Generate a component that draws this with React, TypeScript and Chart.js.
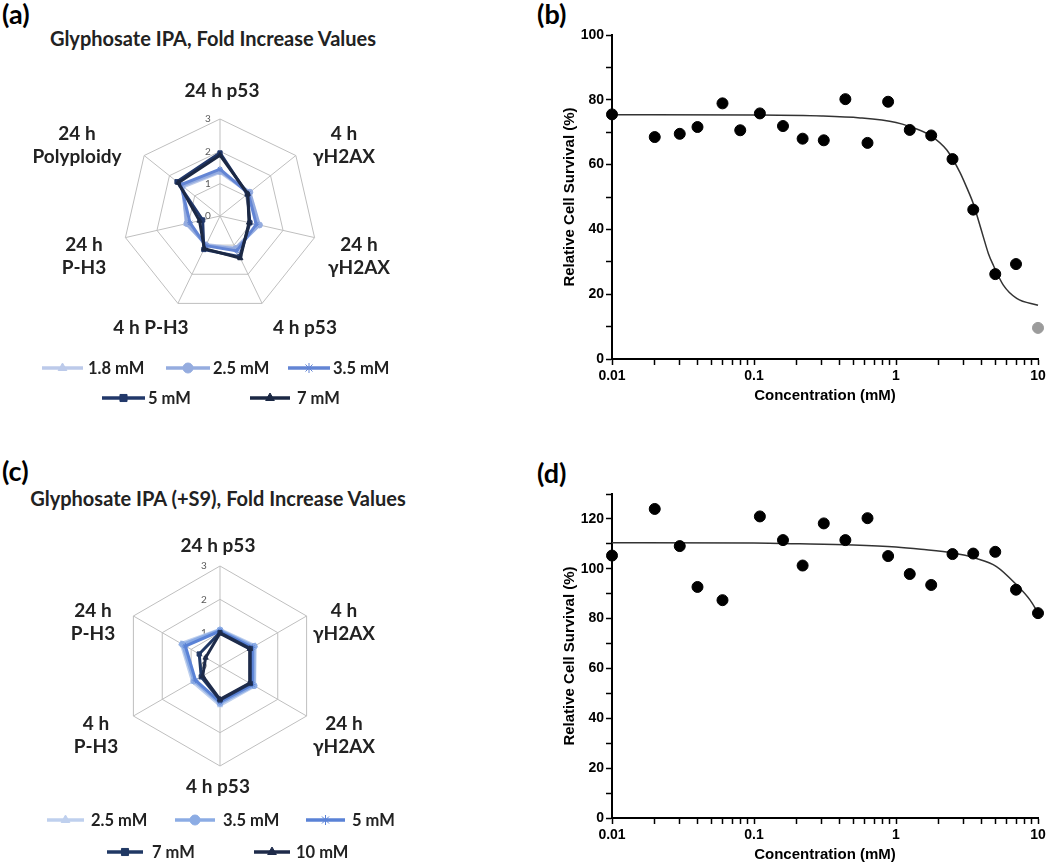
import React, { useEffect, useRef } from 'react';
import { Chart, registerables } from 'chart.js';
import { drawPoint } from 'chart.js/helpers';

Chart.register(...registerables);

const RADAR_FONT = 'Lato, "Open Sans", sans-serif';
const PRISM_FONT = '"Liberation Sans", Arial, sans-serif';

// ================= Panel (a): Glyphosate IPA, fold increase (radar) =================
const A_AXES: string[][] = [
  ['24 h p53'], ['4 h', 'γH2AX'], ['24 h', 'γH2AX'], ['4 h p53'], ['4 h P-H3'], ['24 h', 'P-H3'], ['24 h', 'Polyploidy'],
];
const A_SERIES = ['1.8 mM', '2.5 mM', '3.5 mM', '5 mM', '7 mM'];
const A_1_8_MM = [1.35, 1.15, 1.22, 1.1, 0.98, 1.08, 1.45];
const A_2_5_MM = [1.38, 1.18, 1.25, 1.12, 1.0, 1.05, 1.5];
const A_3_5_MM = [1.45, 1.12, 1.15, 1.2, 1.02, 0.95, 1.55];
const A_5_MM = [1.95, 1.08, 0.95, 1.4, 1.15, 0.55, 1.7];
const A_7_MM = [1.88, 1.1, 0.92, 1.45, 1.12, 0.65, 1.65];
const A_SCALE_TICKS = [0, 1, 2, 3];

// ================= Panel (c): Glyphosate IPA (+S9), fold increase (radar) =================
const C_AXES: string[][] = [
  ['24 h p53'], ['4 h', 'γH2AX'], ['24 h', 'γH2AX'], ['4 h p53'], ['4 h', 'P-H3'], ['24 h', 'P-H3'],
];
const C_SERIES = ['2.5 mM', '3.5 mM', '5 mM', '7 mM', '10 mM'];
const C_2_5_MM = [1.1, 1.22, 1.2, 1.18, 0.95, 1.35];
const C_3_5_MM = [1.08, 1.18, 1.18, 1.12, 0.9, 1.3];
const C_5_MM = [1.05, 1.12, 1.12, 1.08, 0.85, 1.2];
const C_7_MM = [1.0, 1.05, 1.05, 1.02, 0.65, 0.72];
const C_10_MM = [0.98, 1.03, 1.03, 1.0, 0.6, 0.5];
const C_SCALE_TICKS = [0, 1, 2, 3];

// ================= Panel (b): survival, Glyphosate IPA =================
const CONC_TICKS = [
  0.01, 0.02, 0.03, 0.04, 0.05, 0.06, 0.07, 0.08, 0.09,
  0.1, 0.2, 0.3, 0.4, 0.5, 0.6, 0.7, 0.8, 0.9,
  1, 2, 3, 4, 5, 6, 7, 8, 9, 10,
];
const CONC_LABELED = [0.01, 0.1, 1, 10];
const B_CONC = [0.01, 0.02, 0.03, 0.04, 0.06, 0.08, 0.11, 0.16, 0.22, 0.31, 0.44, 0.63, 0.88, 1.25, 1.77, 2.5, 3.5, 5, 7];
const B_SURV = [75.5, 68.5, 69.5, 71.6, 78.9, 70.6, 75.8, 71.9, 68.0, 67.5, 80.2, 66.7, 79.4, 70.7, 69.0, 61.7, 46.1, 26.2, 29.3];
const B_EXCLUDED_CONC = [10];
const B_EXCLUDED_SURV = [9.6];
const B_FIT_CONC = [0.01, 0.1, 0.3, 0.56, 1.0, 1.24, 1.76, 2.28, 2.82, 3.15, 3.5, 3.8, 4.12, 4.47, 4.84, 5.7, 7.08, 10];
const B_FIT_SURV = [75.4, 75.3, 75.0, 74.4, 73.0, 71.8, 68.9, 64.5, 57.6, 52.9, 48.0, 42.9, 37.7, 32.6, 29.0, 22.8, 18.7, 16.6];

// ================= Panel (d): survival, Glyphosate IPA (+S9) =================
const D_CONC = [0.01, 0.02, 0.03, 0.04, 0.06, 0.11, 0.16, 0.22, 0.31, 0.44, 0.63, 0.88, 1.25, 1.77, 2.5, 3.5, 5, 7, 10];
const D_SURV = [105.3, 124.0, 109.1, 92.7, 87.4, 121.0, 111.5, 101.3, 118.2, 111.5, 120.3, 105.1, 97.9, 93.5, 105.9, 106.1, 106.8, 91.6, 82.2];
const D_FIT_CONC = [0.01, 0.1, 0.21, 0.5, 1.0, 1.5, 2.53, 3.6, 5.1, 7.08, 8.8, 10];
const D_FIT_SURV = [110.4, 110.3, 110.0, 109.5, 108.7, 107.8, 106.3, 104.3, 100.9, 93.5, 87.4, 82.3];

// ================= styles / layout =================
const A_COLORS = ['#BCCAEA', '#95ACDF', '#6385D4', '#22386A', '#1B2844'];
const C_COLORS = ['#BFD0EE', '#8CACE4', '#5A82D6', '#203864', '#1E2B4A'];
const MARKERS = ['triangle', 'circle', 'star', 'rect', 'triangle'];

const A_LABEL_OFFSETS: [number, number][] = [[2, -125], [124, -71], [139, 40], [85, 112], [-69, 112], [-136, 40], [-143, -71]];
const C_LABEL_OFFSETS: [number, number][] = [[-2, -120], [124, -44], [124, 69], [-2, 121], [-124, 69], [-127, -44]];

type LegendSlot = { x1: number; x2: number; tx: number; y: number };
const A_LEGEND: LegendSlot[] = [
  { x1: 42, x2: 83, tx: 88, y: 318 },
  { x1: 166, x2: 210, tx: 213, y: 318 },
  { x1: 288, x2: 330, tx: 333, y: 318 },
  { x1: 102, x2: 145, tx: 148, y: 348 },
  { x1: 250, x2: 290, tx: 297, y: 348 },
];
const C_LEGEND: LegendSlot[] = [
  { x1: 47, x2: 84, tx: 91, y: 310 },
  { x1: 175, x2: 215, tx: 223, y: 310 },
  { x1: 306, x2: 345, tx: 352, y: 310 },
  { x1: 107, x2: 143, tx: 152, y: 342 },
  { x1: 254, x2: 290, tx: 296, y: 342 },
];

type Decor = {
  axes: string[][];
  offsets: [number, number][];
  ticks: number[];
  tickDx: number;
  legend: LegendSlot[];
};

function radarDecor(d: Decor) {
  return {
    id: 'radarDecor',
    beforeDatasetsDraw(chart: any) {
      const ctx = chart.ctx;
      const r = chart.scales.r;
      ctx.save();
      ctx.font = `10px ${RADAR_FONT}`;
      ctx.fillStyle = '#595959';
      ctx.textAlign = 'center';
      ctx.textBaseline = 'middle';
      d.ticks.forEach((v) => {
        ctx.fillText(String(v), r.xCenter + d.tickDx, r.yCenter - r.getDistanceFromCenterForValue(v));
      });
      ctx.restore();
    },
    afterDraw(chart: any) {
      const ctx = chart.ctx;
      const r = chart.scales.r;
      ctx.save();
      ctx.font = `bold 19px ${RADAR_FONT}`;
      ctx.fillStyle = '#222';
      ctx.textAlign = 'center';
      ctx.textBaseline = 'middle';
      d.axes.forEach((lines, i) => {
        const [ox, oy] = d.offsets[i];
        lines.forEach((t, j) => {
          ctx.fillText(t, r.xCenter + ox, r.yCenter + oy + (j - (lines.length - 1) / 2) * 23);
        });
      });
      // legend (line + marker, like the spreadsheet legend)
      chart.data.datasets.forEach((ds: any, i: number) => {
        const s = d.legend[i];
        ctx.strokeStyle = ds.borderColor;
        ctx.fillStyle = ds.borderColor;
        ctx.lineWidth = 3.5;
        ctx.beginPath();
        ctx.moveTo(s.x1, s.y);
        ctx.lineTo(s.x2, s.y);
        ctx.stroke();
        ctx.lineWidth = 1;
        drawPoint(ctx, { pointStyle: ds.pointStyle, radius: 5, rotation: 0, borderWidth: 1.5 }, (s.x1 + s.x2) / 2, s.y);
        ctx.fillStyle = '#222';
        ctx.textAlign = 'left';
        ctx.font = `bold 16.5px ${RADAR_FONT}`;
        ctx.fillText(ds.label, s.tx, s.y + 1);
      });
      ctx.restore();
    },
  };
}

function makeRadar(
  axes: string[][], names: string[], values: number[][], colors: string[],
  padding: { left: number; right: number; top: number; bottom: number }, decor: Decor,
) {
  return {
    type: 'radar',
    data: {
      labels: axes.map((a) => a.join(' ')),
      datasets: names.map((name, i) => ({
        label: name,
        data: values[i],
        borderColor: colors[i],
        backgroundColor: colors[i],
        pointBackgroundColor: colors[i],
        pointBorderColor: colors[i],
        pointStyle: MARKERS[i],
        pointRadius: 3,
        pointBorderWidth: 1,
        borderWidth: 3,
        fill: false,
        order: names.length - i,
      })),
    },
    options: {
      animation: false,
      responsive: false,
      maintainAspectRatio: false,
      layout: { padding },
      plugins: { legend: { display: false }, tooltip: { enabled: false }, title: { display: false } },
      scales: {
        r: {
          min: 0,
          max: 3,
          startAngle: 0,
          ticks: { display: false, stepSize: 1 },
          pointLabels: { display: false },
          grid: { color: '#BFBFBF', lineWidth: 1 },
          angleLines: { color: '#BFBFBF', lineWidth: 1 },
        },
      },
    },
    plugins: [radarDecor(decor)],
  };
}

const xy = (xs: number[], ys: number[]) => xs.map((x, i) => ({ x, y: ys[i] }));

function makeSurvival(
  conc: number[], surv: number[], fitConc: number[], fitSurv: number[],
  exConc: number[], exSurv: number[], yMax: number, padBottom: number,
) {
  const tickFont = { family: PRISM_FONT, weight: 'bold' as const, size: 14 };
  const titleFont = { family: PRISM_FONT, weight: 'bold' as const, size: 15, lineHeight: 1.2 };
  return {
    type: 'scatter',
    data: {
      datasets: [
        {
          type: 'line',
          label: 'fit',
          data: xy(fitConc, fitSurv),
          borderColor: '#333',
          borderWidth: 1.5,
          pointRadius: 0,
          cubicInterpolationMode: 'monotone',
          fill: false,
          clip: false,
          order: 3,
        },
        {
          label: 'survival',
          data: xy(conc, surv),
          backgroundColor: '#000',
          borderColor: '#000',
          pointRadius: 5.5,
          clip: false,
          order: 1,
        },
        {
          label: 'excluded',
          data: xy(exConc, exSurv),
          backgroundColor: '#9B9B9B',
          borderColor: '#9B9B9B',
          pointRadius: 5.5,
          clip: false,
          order: 2,
        },
      ],
    },
    options: {
      animation: false,
      responsive: false,
      maintainAspectRatio: false,
      layout: { padding: { left: 41, right: 12, top: 35, bottom: padBottom } },
      plugins: { legend: { display: false }, tooltip: { enabled: false } },
      scales: {
        x: {
          type: 'logarithmic',
          min: 0.01,
          max: 10,
          afterBuildTicks: (s: any) => {
            s.ticks = CONC_TICKS.map((v) => ({ value: v }));
          },
          afterFit: (s: any) => {
            s.height = 46;
          },
          ticks: {
            autoSkip: false,
            maxRotation: 0,
            padding: 3,
            color: '#000',
            font: tickFont,
            callback: (v: number) => {
              const m = CONC_LABELED.find((c) => Math.abs(c - v) / c < 1e-6);
              return m === undefined ? '' : String(m);
            },
          },
          grid: { display: true, drawOnChartArea: false, drawTicks: true, tickLength: 6, color: '#000', tickWidth: 1.5 },
          border: { display: true, color: '#000', width: 2 },
          title: { display: true, text: 'Concentration (mM)', color: '#000', font: titleFont, padding: 0 },
        },
        y: {
          type: 'linear',
          min: 0,
          max: yMax,
          afterFit: (s: any) => {
            s.width = 51;
          },
          ticks: {
            stepSize: 10,
            padding: 2,
            color: '#000',
            font: tickFont,
            callback: (v: number) => (v % 20 === 0 && v <= 120 ? String(v) : ''),
          },
          grid: { display: true, drawOnChartArea: false, drawTicks: true, tickLength: 6, color: '#000', tickWidth: 1.5 },
          border: { display: true, color: '#000', width: 2 },
          title: { display: true, text: 'Relative Cell Survival (%)', color: '#000', font: titleFont, padding: 0 },
        },
      },
    },
  };
}

function ChartBox({ left, top, width, height, make }: {
  left: number; top: number; width: number; height: number; make: () => any;
}) {
  const ref = useRef<HTMLCanvasElement>(null);
  useEffect(() => {
    if (!ref.current) return;
    const chart = new Chart(ref.current, make());
    let alive = true;
    Promise.all([
      document.fonts.load(`bold 16px Lato`),
      document.fonts.load(`10px Lato`),
      document.fonts.load(`bold 14px "Liberation Sans"`),
    ]).then(() => {
      if (alive) chart.update();
    }).catch(() => {});
    return () => {
      alive = false;
      chart.destroy();
    };
  }, []);
  return (
    <canvas
      ref={ref}
      width={width}
      height={height}
      style={{ position: 'absolute', left, top, width, height, display: 'block' }}
    />
  );
}

const letterStyle = (left: number, top: number): React.CSSProperties => ({
  position: 'absolute', left, top, fontFamily: RADAR_FONT, fontWeight: 700, fontSize: 27, lineHeight: '27px', color: '#000',
});
const titleStyle = (cx: number, top: number): React.CSSProperties => ({
  position: 'absolute', left: cx - 250, width: 500, top, textAlign: 'center', fontFamily: RADAR_FONT, fontWeight: 700,
  fontSize: 20, lineHeight: '22px', color: '#222', whiteSpace: 'nowrap',
});

export default function App() {
  return (
    <div style={{ position: 'absolute', left: 0, top: 0, width: 1050, height: 866, overflow: 'hidden', background: '#fff' }}>
      <div style={letterStyle(2, 0)}>(a)</div>
      <div style={titleStyle(213, 27)}>Glyphosate IPA, Fold Increase Values</div>
      <ChartBox
        left={0} top={50} width={440} height={360}
        make={() => makeRadar(A_AXES, A_SERIES, [A_1_8_MM, A_2_5_MM, A_3_5_MM, A_5_MM, A_7_MM], A_COLORS,
          { left: 123, right: 121.6, top: 68.3, bottom: 96.3 },
          { axes: A_AXES, offsets: A_LABEL_OFFSETS, ticks: A_SCALE_TICKS, tickDx: -12, legend: A_LEGEND })}
      />

      <div style={letterStyle(537, 0)}>(b)</div>
      <ChartBox
        left={520} top={0} width={530} height={420}
        make={() => makeSurvival(B_CONC, B_SURV, B_FIT_CONC, B_FIT_SURV, B_EXCLUDED_CONC, B_EXCLUDED_SURV, 100, 15)}
      />

      <div style={letterStyle(2, 457)}>(c)</div>
      <div style={titleStyle(218, 487)}>Glyphosate IPA (+S9), Fold Increase Values</div>
      <ChartBox
        left={0} top={510} width={440} height={356}
        make={() => makeRadar(C_AXES, C_SERIES, [C_2_5_MM, C_3_5_MM, C_5_MM, C_7_MM, C_10_MM], C_COLORS,
          { left: 120.7, right: 119.3, top: 56, bottom: 100 },
          { axes: C_AXES, offsets: C_LABEL_OFFSETS, ticks: C_SCALE_TICKS, tickDx: -16, legend: C_LEGEND })}
      />

      <div style={letterStyle(537, 459)}>(d)</div>
      <ChartBox
        left={520} top={459} width={530} height={407}
        make={() => makeSurvival(D_CONC, D_SURV, D_FIT_CONC, D_FIT_SURV, [], [], 130, 2)}
      />
    </div>
  );
}
